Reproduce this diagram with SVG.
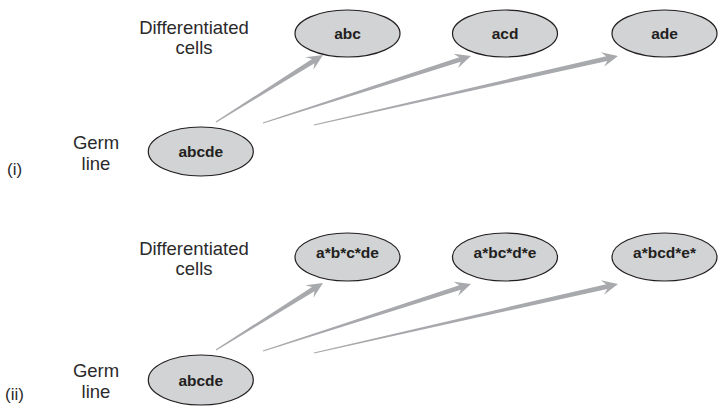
<svg xmlns="http://www.w3.org/2000/svg" width="718" height="408" viewBox="0 0 718 408">
  <style>
    .cell { fill: #d1d3d4; stroke: #231f20; stroke-width: 1.2; }
    .lbl { font-family: "Liberation Sans", Arial, sans-serif; font-weight: bold; font-size: 15.5px; fill: #231f20; text-anchor: middle; }
    .cap { font-family: "Liberation Sans", Arial, sans-serif; font-size: 18.5px; fill: #2b2a2b; text-anchor: middle; }
    .tag { font-family: "Liberation Sans", Arial, sans-serif; font-size: 17px; fill: #2b2a2b; }
    .arrow { fill: #a7a9ac; }
  </style>

  <!-- side captions -->
  <g id="captions">
    <text class="cap" x="194" y="34">Differentiated</text>
    <text class="cap" x="194" y="54">cells</text>
    <text class="cap" x="96" y="149">Germ</text>
    <text class="cap" x="96" y="170">line</text>
    <text class="tag" x="7" y="175">(i)</text>

    <text class="cap" x="194" y="255">Differentiated</text>
    <text class="cap" x="194" y="275">cells</text>
    <text class="cap" x="96" y="377">Germ</text>
    <text class="cap" x="96" y="398">line</text>
    <text class="tag" x="5" y="400">(ii)</text>
  </g>

  <!-- tapered arrows from germ line to differentiated cells -->
  <g id="connectors">
    <g id="arrows-i">
      <path class="arrow" transform="translate(216,122) rotate(-32.05)" d="M0,-0.6 L114.75,-2.4 L110.25,-7.5 L126.25,0 L110.25,7.5 L114.75,2.4 L0,0.6 Z"/>
      <path class="arrow" transform="translate(263,123) rotate(-17.85)" d="M0,-0.6 L207,-2.4 L202.5,-7.5 L218.5,0 L202.5,7.5 L207,2.4 L0,0.6 Z"/>
      <path class="arrow" transform="translate(314,125) rotate(-12.79)" d="M0,-0.6 L300.2,-2.4 L295.7,-7.5 L311.7,0 L295.7,7.5 L300.2,2.4 L0,0.6 Z"/>
    </g>
    <g id="arrows-ii" transform="translate(0,228)">
      <path class="arrow" transform="translate(216,122) rotate(-32.05)" d="M0,-0.6 L114.75,-2.4 L110.25,-7.5 L126.25,0 L110.25,7.5 L114.75,2.4 L0,0.6 Z"/>
      <path class="arrow" transform="translate(263,123) rotate(-17.85)" d="M0,-0.6 L207,-2.4 L202.5,-7.5 L218.5,0 L202.5,7.5 L207,2.4 L0,0.6 Z"/>
      <path class="arrow" transform="translate(314,125) rotate(-12.79)" d="M0,-0.6 L300.2,-2.4 L295.7,-7.5 L311.7,0 L295.7,7.5 L300.2,2.4 L0,0.6 Z"/>
    </g>
  </g>

  <!-- panel (i) -->
  <g id="germ-i">
    <ellipse class="cell" cx="200.8" cy="151.5" rx="52.5" ry="24.5"/>
    <text class="lbl" x="200.8" y="157">abcde</text>
  </g>
  <g id="cell-abc">
    <ellipse class="cell" cx="347.5" cy="33.5" rx="52.5" ry="23.5"/>
    <text class="lbl" x="347.5" y="39">abc</text>
  </g>
  <g id="cell-acd">
    <ellipse class="cell" cx="505" cy="33.5" rx="52.5" ry="23.5"/>
    <text class="lbl" x="505" y="39">acd</text>
  </g>
  <g id="cell-ade">
    <ellipse class="cell" cx="664.5" cy="33.5" rx="52.5" ry="23.5"/>
    <text class="lbl" x="664.5" y="39">ade</text>
  </g>

  <!-- panel (ii) -->
  <g id="germ-ii">
    <ellipse class="cell" cx="200.8" cy="380" rx="52.5" ry="25"/>
    <text class="lbl" x="200.8" y="386">abcde</text>
  </g>
  <g id="cell-abcde-1">
    <ellipse class="cell" cx="347.5" cy="257" rx="52.5" ry="24"/>
    <text class="lbl" x="347.5" y="258">a*b*c*de</text>
  </g>
  <g id="cell-abcde-2">
    <ellipse class="cell" cx="505" cy="257" rx="52.5" ry="24"/>
    <text class="lbl" x="505" y="258">a*bc*d*e</text>
  </g>
  <g id="cell-abcde-3">
    <ellipse class="cell" cx="664.5" cy="257" rx="52.5" ry="24"/>
    <text class="lbl" x="664.5" y="258">a*bcd*e*</text>
  </g>
</svg>
